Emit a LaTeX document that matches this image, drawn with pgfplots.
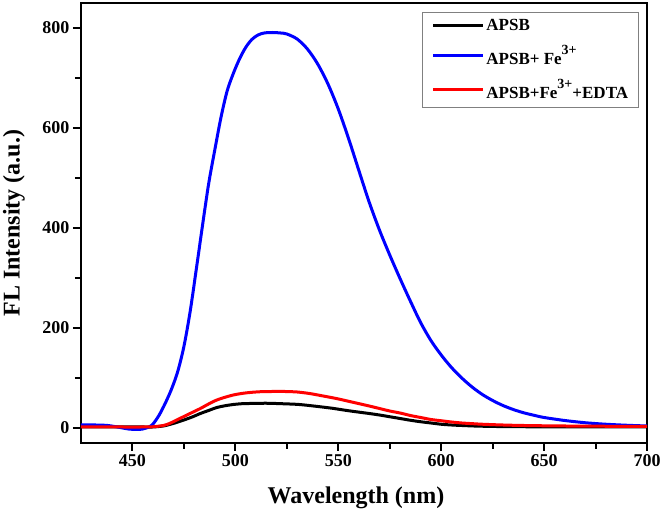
\documentclass[border=0pt]{standalone}
\usepackage{fontspec}
\setmainfont{Liberation Serif}
\usepackage{pgfplots}
\pgfplotsset{compat=1.18}
\usepackage{pgfplotstable}

\newcommand\sups[1]{\raisebox{0.6em}{\fontsize{14bp}{14bp}\selectfont #1}}

\pgfplotstableread{
x y
425 2
440 2
455 2
460 2
465 4
468 7
471 10.5
475 16
479 22
483 29
487 35
491 41
495 44.5
499 47
503 48.5
507 49
515 49.5
523 48.5
531 47
539 43.5
547 39.5
555 34.5
565 29
570 26
575 22.5
580 19
585 15.5
590 12.5
595 10
600 7.5
605 6
610 5
620 3.5
640 2.5
700 2
}\black

\pgfplotstableread{
x y
425 6
432 6
438 5
444 1
448 -2
452 -3
455 -2
458 2
460 8
463 26
466 50
469 78
472 113
475 163
478 232
481 317
484 404
487 488
490 556
493 621
496 674
499 709
502 738
505 761
508 777
511 786
514 790
518 791
522 790
525 788
530 778
535 758
540 728
545 688
550 638
555 579
560 515
565 452
570 396
575 346
580 299
585 254
590 211
595 175
600 146
605 121
610 100
615 82
620 67
625 55
630 45
635 37
640 30.5
645 25.5
650 21
660 15
670 10.5
680 7.5
690 5.5
700 4
}\blue

\pgfplotstableread{
x y
425 2
440 2
455 2
460 2.5
465 5
468 9
471 15
475 23
479 31
483 39
487 48
491 56
495 61.5
499 66
503 69
507 71
512 72.5
518 73
524 73
530 72
536 69
542 64.5
549 59
556 52.5
565 44
570 39
575 34
580 30
585 25
590 21
595 17
600 14.5
605 12
610 10
615 8.7
620 7.5
630 6
640 5
660 4
700 3
}\red

\begin{document}
\begin{tikzpicture}
\begin{axis}[
  scale only axis, width=566bp, height=440bp,
  xmin=425, xmax=700, ymin=-30, ymax=850,
  axis line style={line width=2.5bp},
  xtick={450,500,...,700}, ytick={0,200,...,800},
  minor xtick={475,525,...,675}, minor ytick={100,300,...,700},
  tick align=outside, tick pos=left,
  major tick length=8bp, minor tick length=6bp,
  every tick/.style={line width=2bp, black},
  ticklabel style={font=\fontsize{18bp}{18bp}\selectfont\bfseries},
  /pgf/number format/assume math mode=true,
  xlabel={Wavelength (nm)}, ylabel={FL Intensity (a.u.)},
  label style={font=\fontsize{24bp}{24bp}\selectfont\bfseries},
  xlabel style={at={([xshift=-8bp,yshift=-55bp]axis description cs:0.5,0)}, anchor=center},
  ylabel style={at={([xshift=-67bp]axis description cs:0,0.5)}, anchor=center},
  legend cell align=left,
  legend image code/.code={\draw[#1] (0bp,0bp) -- (50bp,0bp);},
  legend style={at={(1,1)}, anchor=north east, xshift=-8bp, yshift=-9bp,
    draw=gray, line width=0.8bp, font=\fontsize{17bp}{19bp}\selectfont\bfseries,
    row sep=9bp, inner xsep=9bp, inner ysep=5bp,
    nodes={inner xsep=1.5bp}},
]
\addplot[black, line width=3bp, smooth] table {\black};
\addlegendentry{APSB}
\addplot[blue, line width=3bp, smooth] table {\blue};
\addlegendentry{APSB+ Fe\sups{3+}}
\addplot[red, line width=3bp, smooth] table {\red};
\addlegendentry{APSB+Fe\sups{3+}+EDTA}
\end{axis}
\pgfresetboundingbox
\path[use as bounding box] ([shift={(-81bp,-66bp)}]current axis.south west) rectangle ([shift={(14bp,3bp)}]current axis.north east);
\end{tikzpicture}
\end{document}
